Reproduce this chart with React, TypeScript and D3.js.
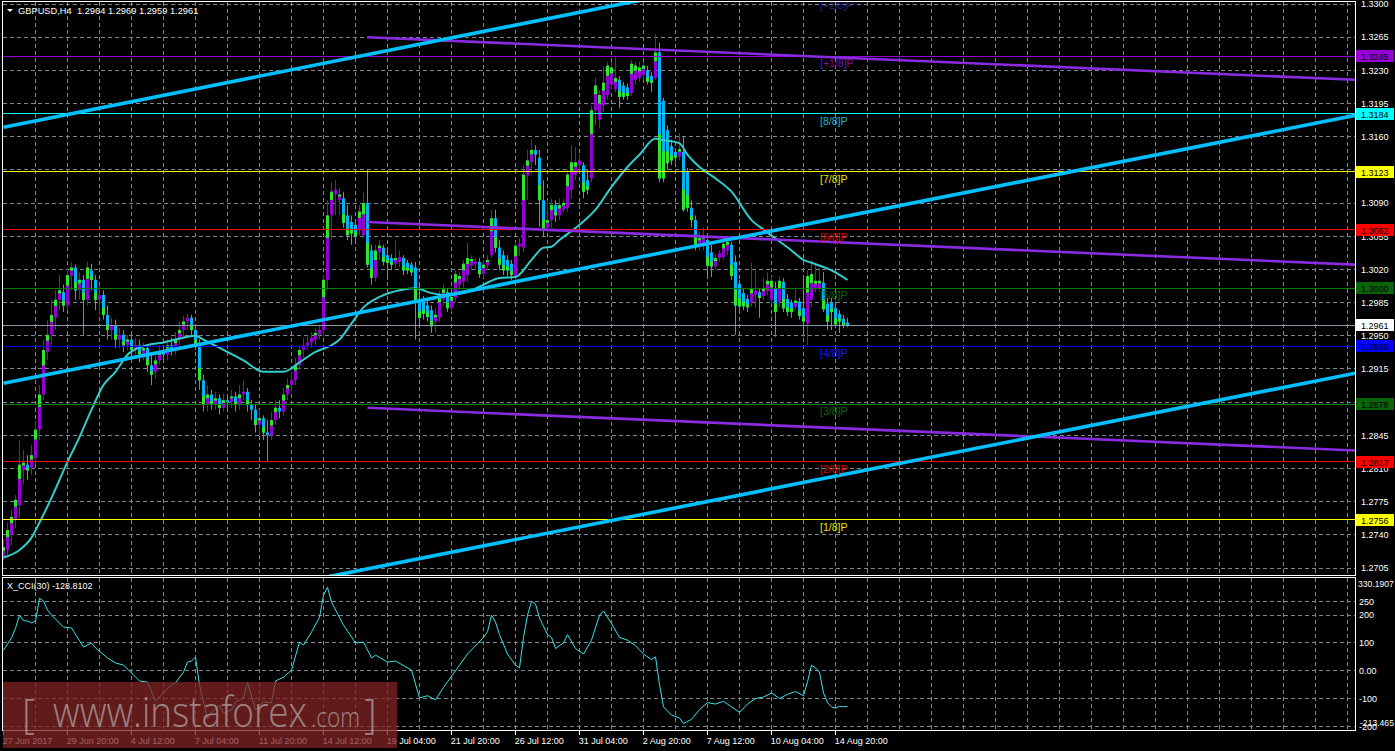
import React, { useEffect, useRef } from 'react'
import * as d3 from 'd3'

const W = 1395
const H = 751

// GBPUSD H4 bars, 27 Jun 04:00 -> 15 Aug 08:00
const opens = [
  1.2716, 1.2724, 1.2740, 1.2756, 1.2771, 1.2808, 1.2814, 1.2811, 1.2821, 1.2851,
  1.2888, 1.2933, 1.2951, 1.2969, 1.2988, 1.2996, 1.2982, 1.3013, 1.3022, 1.2998,
  1.3009, 1.2988, 1.3019, 1.3009, 1.2988, 1.2993, 1.2972, 1.2956, 1.2961, 1.2946,
  1.2951, 1.2940, 1.2946, 1.2935, 1.2940, 1.2930, 1.2937, 1.2919, 1.2912, 1.2924,
  1.2933, 1.2930, 1.2940, 1.2935, 1.2946, 1.2956, 1.2965, 1.2969, 1.2956, 1.2940,
  1.2903, 1.2877, 1.2888, 1.2877, 1.2884, 1.2874, 1.2882, 1.2880, 1.2886, 1.2877,
  1.2888, 1.2891, 1.2877, 1.2872, 1.2856, 1.2863, 1.2848, 1.2845, 1.2861, 1.2874,
  1.2870, 1.2888, 1.2898, 1.2903, 1.2919, 1.2935, 1.2940, 1.2943, 1.2946, 1.2951,
  1.2956, 1.3009, 1.3077, 1.3099, 1.3093, 1.3095, 1.3077, 1.3070, 1.3067, 1.3062,
  1.3056, 1.3090, 1.3040, 1.3011, 1.3038, 1.3043, 1.3035, 1.3032, 1.3026, 1.3028,
  1.3032, 1.3027, 1.3025, 1.3022, 1.2988, 1.2986, 1.2982, 1.2977, 1.2965, 1.2969,
  1.2988, 1.2996, 1.2979, 1.2990, 1.3004, 1.3007, 1.3014, 1.3024, 1.3026, 1.3028,
  1.3015, 1.3024, 1.3035, 1.3074, 1.3043, 1.3035, 1.3030, 1.3026, 1.3013, 1.3044,
  1.3043, 1.3119, 1.3133, 1.3146, 1.3138, 1.3093, 1.3064, 1.3072, 1.3088, 1.3077,
  1.3083, 1.3085, 1.3104, 1.3120, 1.3130, 1.3130, 1.3114, 1.3116, 1.3188, 1.3178,
  1.3193, 1.3204, 1.3215, 1.3210, 1.3220, 1.3214, 1.3212, 1.3206, 1.3220, 1.3222,
  1.3225, 1.3230, 1.3224, 1.3222, 1.3249, 1.3198, 1.3167, 1.3150, 1.3144, 1.3139,
  1.3144, 1.3123, 1.3085, 1.3072, 1.3046, 1.3046, 1.3051, 1.3038, 1.3023, 1.3032,
  1.3033, 1.3040, 1.3046, 1.3028, 1.3005, 1.2995, 1.2989, 1.2985, 1.2993, 1.2996,
  1.2992, 1.2997, 1.2988, 1.3000, 1.2986, 1.3007, 1.2989, 1.2985, 1.2980, 1.2986,
  1.2979, 1.2963, 1.2988, 1.2999, 1.3000, 1.3006, 1.2984, 1.2985, 1.2979, 1.2973,
  1.2968, 1.2964,
]
const highs = [
  1.2735, 1.2753, 1.2766, 1.2782, 1.2840, 1.2830, 1.2824, 1.2835, 1.2861, 1.2898,
  1.2946, 1.2967, 1.2988, 1.2998, 1.3014, 1.3004, 1.3022, 1.3028, 1.3025, 1.3017,
  1.3014, 1.3028, 1.3026, 1.3014, 1.3004, 1.2998, 1.2982, 1.2969, 1.2967, 1.2958,
  1.2956, 1.2951, 1.2951, 1.2948, 1.2946, 1.2943, 1.2940, 1.2930, 1.2930, 1.2940,
  1.2940, 1.2946, 1.2948, 1.2954, 1.2965, 1.2971, 1.2973, 1.2972, 1.2961, 1.2946,
  1.2909, 1.2898, 1.2893, 1.2891, 1.2888, 1.2889, 1.2886, 1.2893, 1.2891, 1.2898,
  1.2903, 1.2895, 1.2882, 1.2877, 1.2872, 1.2866, 1.2861, 1.2870, 1.2882, 1.2882,
  1.2895, 1.2905, 1.2912, 1.2927, 1.2940, 1.2948, 1.2950, 1.2954, 1.2958, 1.2962,
  1.3014, 1.3093, 1.3112, 1.3114, 1.3106, 1.3102, 1.3088, 1.3077, 1.3072, 1.3088,
  1.3101, 1.3125, 1.3046, 1.3046, 1.3051, 1.3046, 1.3040, 1.3036, 1.3051, 1.3040,
  1.3035, 1.3030, 1.3028, 1.3028, 1.3004, 1.2992, 1.2988, 1.2982, 1.2979, 1.2998,
  1.3004, 1.3000, 1.2995, 1.3019, 1.3017, 1.3030, 1.3048, 1.3035, 1.3032, 1.3032,
  1.3030, 1.3035, 1.3083, 1.3083, 1.3051, 1.3040, 1.3035, 1.3030, 1.3049, 1.3053,
  1.3130, 1.3146, 1.3157, 1.3151, 1.3146, 1.3114, 1.3093, 1.3095, 1.3093, 1.3095,
  1.3095, 1.3125, 1.3151, 1.3149, 1.3141, 1.3133, 1.3125, 1.3193, 1.3222, 1.3209,
  1.3234, 1.3239, 1.3239, 1.3244, 1.3224, 1.3218, 1.3216, 1.3241, 1.3239, 1.3239,
  1.3239, 1.3235, 1.3228, 1.3268, 1.3259, 1.3201, 1.3172, 1.3157, 1.3148, 1.3164,
  1.3160, 1.3127, 1.3093, 1.3077, 1.3060, 1.3064, 1.3056, 1.3046, 1.3036, 1.3040,
  1.3051, 1.3055, 1.3049, 1.3035, 1.3009, 1.3000, 1.2993, 1.3027, 1.3019, 1.3000,
  1.3011, 1.3017, 1.3013, 1.3007, 1.3013, 1.3011, 1.2994, 1.2988, 1.3000, 1.2990,
  1.3011, 1.3019, 1.3030, 1.3025, 1.3022, 1.3017, 1.2990, 1.2990, 1.2986, 1.2977,
  1.2972, 1.2969,
]
const lows = [
  1.2713, 1.2719, 1.2729, 1.2747, 1.2758, 1.2793, 1.2798, 1.2803, 1.2814, 1.2840,
  1.2882, 1.2924, 1.2940, 1.2956, 1.2977, 1.2975, 1.2977, 1.2998, 1.2988, 1.2988,
  1.2951, 1.2982, 1.2998, 1.2977, 1.2972, 1.2967, 1.2946, 1.2946, 1.2937, 1.2937,
  1.2933, 1.2935, 1.2927, 1.2930, 1.2922, 1.2924, 1.2912, 1.2898, 1.2905, 1.2919,
  1.2922, 1.2924, 1.2929, 1.2930, 1.2940, 1.2948, 1.2956, 1.2950, 1.2935, 1.2893,
  1.2870, 1.2870, 1.2872, 1.2872, 1.2867, 1.2870, 1.2874, 1.2874, 1.2870, 1.2872,
  1.2882, 1.2870, 1.2861, 1.2848, 1.2845, 1.2840, 1.2817, 1.2840, 1.2856, 1.2863,
  1.2866, 1.2882, 1.2891, 1.2898, 1.2914, 1.2927, 1.2935, 1.2937, 1.2940, 1.2946,
  1.2949, 1.2998, 1.3051, 1.3077, 1.3077, 1.3064, 1.3051, 1.3046, 1.3051, 1.3056,
  1.3053, 1.3022, 1.3004, 1.3007, 1.3030, 1.3024, 1.3009, 1.3019, 1.3022, 1.3022,
  1.3014, 1.3015, 1.3013, 1.2946, 1.2961, 1.2967, 1.2965, 1.2953, 1.2953, 1.2965,
  1.2982, 1.2975, 1.2975, 1.2986, 1.2998, 1.3001, 1.3007, 1.3019, 1.3019, 1.3011,
  1.3011, 1.3019, 1.3032, 1.3038, 1.3019, 1.3014, 1.3013, 1.3009, 1.3009, 1.3034,
  1.3038, 1.3093, 1.3120, 1.3130, 1.3065, 1.3054, 1.3060, 1.3064, 1.3070, 1.3072,
  1.3080, 1.3081, 1.3095, 1.3114, 1.3125, 1.3095, 1.3099, 1.3112, 1.3172, 1.3169,
  1.3186, 1.3199, 1.3209, 1.3207, 1.3190, 1.3199, 1.3199, 1.3203, 1.3215, 1.3218,
  1.3220, 1.3215, 1.3207, 1.3220, 1.3112, 1.3112, 1.3125, 1.3130, 1.3133, 1.3135,
  1.3081, 1.3081, 1.3064, 1.3040, 1.3040, 1.3040, 1.3012, 1.3012, 1.3019, 1.3028,
  1.3030, 1.3035, 1.3009, 1.2951, 1.2977, 1.2977, 1.2975, 1.2981, 1.2979, 1.2969,
  1.2988, 1.2993, 1.2984, 1.2949, 1.2981, 1.2975, 1.2971, 1.2969, 1.2977, 1.2967,
  1.2949, 1.2940, 1.2981, 1.2996, 1.2997, 1.2975, 1.2956, 1.2956, 1.2958, 1.2953,
  1.2958, 1.2959,
]
const closes = [
  1.2727, 1.2745, 1.2759, 1.2777, 1.2814, 1.2816, 1.2808, 1.2824, 1.2851, 1.2888,
  1.2935, 1.2951, 1.2972, 1.2988, 1.2998, 1.2982, 1.3014, 1.3022, 1.2998, 1.3009,
  1.2988, 1.3022, 1.3009, 1.2988, 1.2993, 1.2972, 1.2956, 1.2961, 1.2946, 1.2951,
  1.2940, 1.2946, 1.2935, 1.2940, 1.2930, 1.2937, 1.2919, 1.2909, 1.2924, 1.2933,
  1.2930, 1.2940, 1.2935, 1.2946, 1.2956, 1.2965, 1.2969, 1.2956, 1.2940, 1.2903,
  1.2877, 1.2888, 1.2877, 1.2884, 1.2874, 1.2882, 1.2880, 1.2886, 1.2877, 1.2888,
  1.2891, 1.2877, 1.2872, 1.2856, 1.2863, 1.2848, 1.2845, 1.2861, 1.2874, 1.2870,
  1.2888, 1.2898, 1.2903, 1.2919, 1.2935, 1.2940, 1.2943, 1.2948, 1.2953, 1.2956,
  1.3009, 1.3077, 1.3102, 1.3104, 1.3099, 1.3069, 1.3056, 1.3058, 1.3055, 1.3081,
  1.3090, 1.3025, 1.3011, 1.3040, 1.3045, 1.3028, 1.3027, 1.3025, 1.3032, 1.3033,
  1.3019, 1.3019, 1.3017, 1.2988, 1.2969, 1.2973, 1.2970, 1.2960, 1.2972, 1.2994,
  1.2999, 1.2979, 1.2991, 1.3015, 1.3013, 1.3026, 1.3032, 1.3031, 1.3028, 1.3015,
  1.3025, 1.3030, 1.3074, 1.3043, 1.3025, 1.3019, 1.3019, 1.3014, 1.3045, 1.3047,
  1.3120, 1.3135, 1.3146, 1.3141, 1.3093, 1.3062, 1.3072, 1.3088, 1.3077, 1.3088,
  1.3090, 1.3120, 1.3133, 1.3133, 1.3135, 1.3102, 1.3104, 1.3188, 1.3214, 1.3204,
  1.3217, 1.3235, 1.3233, 1.3222, 1.3202, 1.3202, 1.3203, 1.3237, 1.3235, 1.3233,
  1.3235, 1.3218, 1.3217, 1.3249, 1.3116, 1.3116, 1.3132, 1.3135, 1.3138, 1.3147,
  1.3083, 1.3085, 1.3072, 1.3046, 1.3053, 1.3056, 1.3024, 1.3023, 1.3032, 1.3037,
  1.3047, 1.3049, 1.3013, 1.2982, 1.2981, 1.2981, 1.2980, 1.3000, 1.2998, 1.2990,
  1.3000, 1.3008, 1.3008, 1.2975, 1.3008, 1.2979, 1.2975, 1.2975, 1.2987, 1.2971,
  1.2965, 1.3013, 1.3015, 1.3008, 1.3008, 1.2978, 1.2965, 1.2975, 1.2962, 1.2965,
  1.2961, 1.2961,
]

// moving average: [bar, price]
const maPoints: [number, number][] = [
  [0, 1.2716], [4, 1.2724], [7, 1.2737], [9, 1.2753], [12, 1.2779], [16, 1.2817],
  [19, 1.2843], [22, 1.2872], [25, 1.2898], [28, 1.2912], [31, 1.2930], [35, 1.2939],
  [40, 1.2943], [45, 1.2948], [48, 1.2950], [50, 1.2946], [55, 1.2935], [60, 1.2924],
  [65, 1.2912], [70, 1.2912], [74, 1.2922], [78, 1.2933], [82, 1.2940], [84, 1.2946],
  [87, 1.2963], [90, 1.2980], [94, 1.2991], [99, 1.2998], [103, 1.3000], [107, 1.2995],
  [111, 1.2993], [116, 1.2996], [120, 1.3004], [124, 1.3011], [128, 1.3012], [132, 1.3030],
  [135, 1.3043], [137, 1.3044], [139, 1.3051], [144, 1.3067], [148, 1.3083], [152, 1.3107],
  [156, 1.3128], [159, 1.3141], [163, 1.3158], [164, 1.3157], [169, 1.3153], [171, 1.3141],
  [174, 1.3128], [178, 1.3116], [182, 1.3102], [187, 1.3072], [190, 1.3062], [197, 1.3040],
  [200, 1.3030], [202, 1.3027], [207, 1.3019], [211, 1.3009],
]

// X_CCI(30): [bar, value]
const cciPoints: [number, number][] = [
  [0, 74], [2, 118], [3, 153], [4, 200], [5, 180], [6, 179], [7, 172], [8, 179], [9, 261],
  [10, 251], [11, 218], [12, 200], [15, 157], [17, 154], [20, 85], [22, 100], [23, 82],
  [26, 46], [28, 28], [30, 20], [32, -8], [34, -37], [36, -41], [38, -109], [40, -80],
  [42, -51], [43, -44], [45, -5], [46, 31], [47, 35], [48, 49], [49, -51], [51, -174],
  [52, -149], [54, -124], [55, -152], [57, -141], [58, -112], [60, -98], [61, -41],
  [63, -141], [65, -112], [67, -116], [68, -37], [70, -23], [72, 2], [74, 103], [75, 92],
  [77, 139], [79, 192], [80, 272], [81, 300], [82, 247], [85, 164], [88, 100], [90, 103],
  [92, 46], [93, 56], [96, 31], [98, 35], [102, 2], [104, -98], [106, -90], [108, -105],
  [110, -60], [112, -20], [114, 20], [116, 60], [118, 90], [120, 120], [121, 140],
  [122, 200], [123, 175], [124, 130], [126, 60], [128, 20], [129, 10], [130, 120],
  [131, 200], [132, 250], [133, 240], [134, 190], [136, 130], [137, 120], [138, 80],
  [140, 100], [141, 130], [143, 80], [145, 60], [147, 110], [149, 200], [150, 215],
  [152, 170], [154, 120], [156, 110], [158, 90], [160, 60], [162, 40], [163, 50],
  [164, -50], [165, -130], [167, -160], [169, -170], [170, -190], [172, -175], [174, -140],
  [176, -115], [178, -120], [180, -110], [182, -130], [184, -150], [186, -120], [188, -100],
  [190, -95], [192, -80], [194, -100], [196, -85], [198, -75], [200, -90], [201, -40],
  [202, 20], [203, 10], [204, -5], [205, -80], [206, -115], [207, -130], [208, -135],
  [209, -128], [210, -130], [211, -128.8],
]

const dateTicks = [0, 16, 32, 48, 64, 80, 96, 112, 128, 144, 160, 176, 192, 208]
const dateLabels = [
  '27 Jun 2017', '29 Jun 20:00', '4 Jul 12:00', '7 Jul 04:00', '11 Jul 20:00',
  '14 Jul 12:00', '19 Jul 04:00', '21 Jul 20:00', '26 Jul 12:00', '31 Jul 04:00',
  '2 Aug 20:00', '7 Aug 12:00', '10 Aug 04:00', '14 Aug 20:00',
]

// grid prices; 1.3125 and 1.2880 have their labels hidden under level tags
const priceTicks = [
  1.3300, 1.3265, 1.3230, 1.3195, 1.3160, 1.3125, 1.3090, 1.3055, 1.3020, 1.2985,
  1.2950, 1.2915, 1.2880, 1.2845, 1.2810, 1.2775, 1.2740, 1.2705,
]
const hiddenTicks = [1.3125, 1.2880]
const cciTicks = [250, 200, 100, 0, -100, -200]

// Murrey math levels
const levelNames = ['[+2/8]P', '[+1/8]P', '[8/8]P', '[7/8]P', '[6/8]P', '[5/8]P', '[4/8]P', '[3/8]P', '[2/8]P', '[1/8]P']
const levelPrices = [1.3306, 1.3245, 1.3184, 1.3123, 1.3062, 1.3000, 1.2939, 1.2878, 1.2817, 1.2756]
const levelColors = ['#1c2290', '#9400d3', '#00ffff', '#ffff00', '#ff0000', '#008000', '#0000ff', '#008000', '#ff0000', '#ffff00']
const labelColors = ['#1c2a8c', '#7a10b0', '#28b8c8', '#e6e600', '#e00000', '#0a6a0a', '#1a1aff', '#0a6a0a', '#e00000', '#e6e600']
const tagColors = ['', '#9400d3', '#00ffff', '#ffff00', '#ff0000', '#0a640a', '#0000ff', '#0a640a', '#ff0000', '#ffff00']

const lastPrice = 1.2961

// channel lines: [bar, price] anchors
const channelLines: [number, number][][] = [
  [[0, 1.3170], [338, 1.34546]],
  [[0, 1.2900], [338, 1.31826]],
  [[0, 1.2628], [338, 1.29106]],
]
const regressionLines: [number, number][][] = [
  [[91, 1.3265], [338, 1.3220]],
  [[91, 1.3070], [338, 1.3025]],
  [[91, 1.2874], [338, 1.2829]],
]

const FONT = "'Liberation Sans', Arial, sans-serif"
const GRID = '#7b8794'
const BULL = '#9400d3'
const BEAR = '#00b4f5'
const LIME = '#2ee62e'

export default function App() {
  const ref = useRef<SVGSVGElement>(null)

  useEffect(() => {
    const svg = d3.select(ref.current)
    svg.selectAll('*').remove()

    const x = d3.scaleLinear().domain([0, 338]).range([3.5, 1355.5])
    const y = d3.scaleLinear().domain([1.2705, 1.33]).range([568, 4])
    const yc = d3.scaleLinear().domain([-213.465, 330.1907]).range([730, 579])
    const px = (v: number) => Math.floor(v) + 0.5

    svg.append('rect').attr('width', W).attr('height', H).attr('fill', '#000')

    const defs = svg.append('defs')
    defs.append('clipPath').attr('id', 'clipMain')
      .append('rect').attr('x', 3).attr('y', 2).attr('width', 1352).attr('height', 573)
    defs.append('clipPath').attr('id', 'clipCci')
      .append('rect').attr('x', 3).attr('y', 578).attr('width', 1352).attr('height', 152)

    const gridBars = d3.range(8, 338, 8)

    // ---------- main panel ----------
    const main = svg.append('g').attr('clip-path', 'url(#clipMain)')

    main.selectAll('line.vg').data(gridBars).join('line')
      .attr('x1', d => px(x(d))).attr('x2', d => px(x(d)))
      .attr('y1', 2).attr('y2', 575)
      .attr('stroke', GRID).attr('stroke-dasharray', '4,3')
    main.selectAll('line.hg').data(priceTicks).join('line')
      .attr('x1', 3).attr('x2', 1355)
      .attr('y1', d => px(y(d))).attr('y2', d => px(y(d)))
      .attr('stroke', GRID).attr('stroke-dasharray', '4,3')

    // candles
    const bars = d3.range(opens.length)
    const isBull = (i: number) => closes[i] >= opens[i]
    const bodyH = (i: number) => Math.abs(y(opens[i]) - y(closes[i]))
    main.selectAll('line.wick').data(bars).join('line')
      .attr('x1', i => x(i)).attr('x2', i => x(i))
      .attr('y1', i => y(Math.max(highs[i], opens[i], closes[i])))
      .attr('y2', i => y(Math.min(lows[i], opens[i], closes[i])))
      .attr('stroke', i => isBull(i) ? BULL : BEAR)
    main.selectAll('rect.body').data(bars).join('rect')
      .attr('x', i => x(i) - 1.5).attr('width', 3)
      .attr('y', i => y(Math.max(opens[i], closes[i])))
      .attr('height', i => Math.max(1, bodyH(i)))
      .attr('fill', i => isBull(i) ? BULL : BEAR)
    main.selectAll('rect.lime').data(bars.filter(i => bodyH(i) >= 5)).join('rect')
      .attr('x', i => x(i) - 1.5).attr('width', 3)
      .attr('y', i => isBull(i) ? y(closes[i]) : y(closes[i]) - bodyH(i) * 0.35)
      .attr('height', i => bodyH(i) * 0.35)
      .attr('fill', LIME)

    // moving average
    const ptLine = d3.line<[number, number]>().x(d => x(d[0])).y(d => y(d[1]))
    main.append('path')
      .attr('d', d3.line<[number, number]>().x(d => x(d[0])).y(d => y(d[1])).curve(d3.curveMonotoneX)(maPoints))
      .attr('fill', 'none').attr('stroke', '#33cccc').attr('stroke-width', 2)

    // horizontal levels
    main.selectAll('line.lvl').data(levelPrices.slice(1)).join('line')
      .attr('x1', 3).attr('x2', 1355)
      .attr('y1', d => px(y(d))).attr('y2', d => px(y(d)))
      .attr('stroke', (d, i) => levelColors[i + 1])
    main.append('line')
      .attr('x1', 3).attr('x2', 1355)
      .attr('y1', px(y(lastPrice))).attr('y2', px(y(lastPrice)))
      .attr('stroke', '#8c9aa8')

    // regression channel
    regressionLines.forEach(seg => {
      main.append('path').attr('d', ptLine(seg))
        .attr('fill', 'none').attr('stroke', '#8a2be2').attr('stroke-width', 2.6)
    })
    // trend channel
    channelLines.forEach(seg => {
      main.append('path').attr('d', ptLine(seg))
        .attr('fill', 'none').attr('stroke', '#00bfff').attr('stroke-width', 3.6)
    })

    // level labels
    main.selectAll('text.lvl').data(levelNames).join('text')
      .attr('x', 820).attr('y', (d, i) => y(levelPrices[i]) + 11)
      .attr('fill', (d, i) => labelColors[i])
      .attr('font-family', FONT).attr('font-size', 10.5)
      .text(d => d)

    // title
    main.append('path').attr('d', 'M7,9L13,9L10,12Z').attr('fill', '#fff')
    main.append('text').attr('x', 18).attr('y', 13.5)
      .attr('fill', '#fff').attr('font-family', FONT).attr('font-size', 9.3)
      .attr('xml:space', 'preserve')
      .text('GBPUSD,H4  1.2964 1.2969 1.2959 1.2961')

    // ---------- CCI panel ----------
    const cci = svg.append('g').attr('clip-path', 'url(#clipCci)')
    cci.selectAll('line.vg').data(gridBars).join('line')
      .attr('x1', d => px(x(d))).attr('x2', d => px(x(d)))
      .attr('y1', 578).attr('y2', 730)
      .attr('stroke', GRID).attr('stroke-dasharray', '4,3')
    cci.selectAll('line.hg').data(cciTicks).join('line')
      .attr('x1', 3).attr('x2', 1355)
      .attr('y1', d => px(yc(d))).attr('y2', d => px(yc(d)))
      .attr('stroke', GRID).attr('stroke-dasharray', '4,3')
    cci.append('path')
      .attr('d', d3.line<[number, number]>().x(d => x(d[0])).y(d => yc(d[1]))(cciPoints))
      .attr('fill', 'none').attr('stroke', '#3ee0e6').attr('stroke-width', 1)
    cci.append('text').attr('x', 7).attr('y', 589)
      .attr('fill', '#fff').attr('font-family', FONT).attr('font-size', 9)
      .text('X_CCI(30) -128.8102')

    // ---------- frames ----------
    const frame = svg.append('g').attr('fill', 'none').attr('stroke', '#fff')
    frame.append('rect').attr('x', 2.5).attr('y', 1.5).attr('width', 1353).attr('height', 574)
    frame.append('rect').attr('x', 2.5).attr('y', 577.5).attr('width', 1353).attr('height', 153)

    // ---------- right axis ----------
    const axis = svg.append('g').attr('font-family', FONT).attr('font-size', 9)
    axis.selectAll('text.pt').data(priceTicks.filter(p => !hiddenTicks.includes(p))).join('text')
      .attr('x', 1361).attr('y', d => y(d) + 3.3)
      .attr('fill', '#fff').text(d => d.toFixed(4))

    const tags = levelPrices.map((p, i) => ({ p, bg: tagColors[i] })).filter(d => d.bg)
    tags.push({ p: lastPrice, bg: '#ffffff' })
    const tg = axis.selectAll('g.tag').data(tags).join('g')
    tg.append('rect')
      .attr('x', 1356).attr('width', 38)
      .attr('y', d => Math.round(y(d.p)) - 6).attr('height', 12)
      .attr('fill', d => d.bg)
    tg.append('text')
      .attr('x', 1361).attr('y', d => Math.round(y(d.p)) + 3.5)
      .attr('fill', '#000').text(d => d.p.toFixed(4))

    axis.selectAll('text.ct').data(cciTicks).join('text')
      .attr('x', 1359).attr('y', d => yc(d) + 3.3)
      .attr('fill', '#fff').text(d => d === 0 ? '0.00' : String(d))
    axis.append('text').attr('x', 1358).attr('y', 586.5).attr('font-size', 8.6).attr('fill', '#fff').text('330.1907')
    axis.append('text').attr('x', 1360).attr('y', 726).attr('font-size', 8.6).attr('fill', '#fff').text('-213.465')

    // ---------- time axis ----------
    const tAxis = svg.append('g').attr('font-family', FONT).attr('font-size', 9)
    tAxis.selectAll('line').data(dateTicks).join('line')
      .attr('x1', d => px(x(d))).attr('x2', d => px(x(d)))
      .attr('y1', 731).attr('y2', 735).attr('stroke', '#fff')
    tAxis.selectAll('text').data(dateTicks).join('text')
      .attr('x', d => x(d) - 0.8).attr('y', 743.5)
      .attr('fill', '#fff').text((d, i) => dateLabels[i])

    // ---------- watermark ----------
    const wm = svg.append('g')
    wm.append('rect').attr('x', 3).attr('y', 682).attr('width', 394).attr('height', 66)
      .attr('fill', '#822424').attr('opacity', 0.75)
    const wmText = wm.append('g').attr('fill', '#c4c4c4').attr('opacity', 0.6)
      .attr('font-family', "'Open Sans', 'DejaVu Sans', sans-serif").attr('font-weight', 300)
    wmText.append('text').attr('x', 22).attr('y', 728).attr('font-size', 40).text('[')
    wmText.append('text').attr('x', 53).attr('y', 727).attr('font-size', 42)
      .attr('textLength', 254).attr('lengthAdjust', 'spacingAndGlyphs').text('www.instaforex')
    wmText.append('text').attr('x', 311).attr('y', 727).attr('font-size', 27)
      .attr('textLength', 49).attr('lengthAdjust', 'spacingAndGlyphs').text('.com')
    wmText.append('text').attr('x', 364).attr('y', 728).attr('font-size', 40).text(']')
  }, [])

  return (
    <div style={{ position: 'fixed', left: 0, top: 0, width: W, height: H, background: '#000' }}>
      <svg ref={ref} width={W} height={H} />
    </div>
  )
}
